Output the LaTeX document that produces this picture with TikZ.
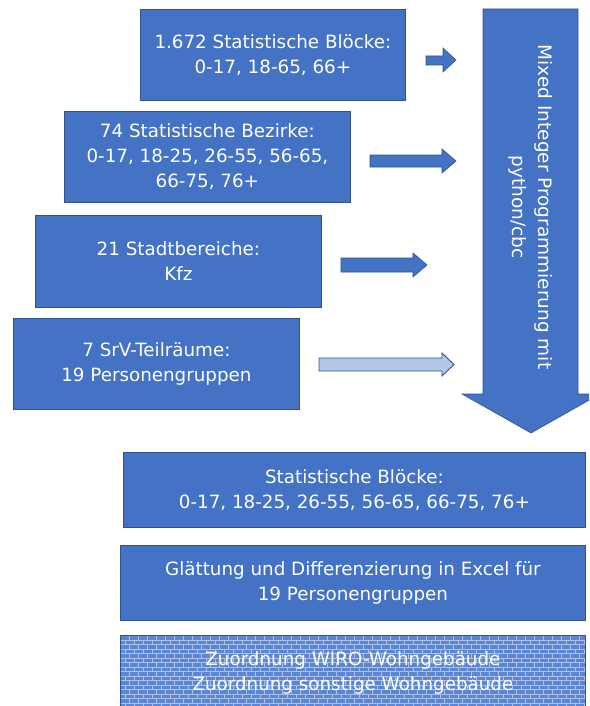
\documentclass[tikz,border=0pt]{standalone}
\usepackage{fontspec}
\setmainfont{DejaVu Sans}
\definecolor{boxblue}{HTML}{4472C4}
\definecolor{boxedge}{HTML}{2F528F}
\definecolor{lightarrow}{HTML}{B4C7E7}
\definecolor{brickfill}{HTML}{5C86D0}
\definecolor{brickline}{HTML}{A9C1EC}
\tikzset{
  box/.style={draw=boxedge, line width=0.8pt, fill=boxblue, text=white, align=center,
    anchor=north west, inner sep=0pt, font=\fontsize{18.3}{25}\selectfont},
  blockarrow/.style={draw=boxedge, line width=0.6pt, fill=boxblue},
  lightblockarrow/.style={draw=boxedge, line width=0.9pt, fill=lightarrow},
  bigtext/.style={text=white, align=center, rotate=-90, font=\fontsize{18.5}{26}\selectfont},
  bricks/.style={draw=brickline, line width=0.6pt}
}
\begin{document}
\begin{tikzpicture}[x=1pt,y=-1pt]
\useasboundingbox (0,0) rectangle (589,706);
\clip (0,0) rectangle (589,706);

% big down arrow
\draw[blockarrow] (483,9) -- (578,9) -- (578,394) -- (600,394) -- (531,433) -- (462,394) -- (483,394) -- cycle;
\node[bigtext] (mip) at (531,207) {Mixed Integer Programmierung mit\\python/cbc};

% source boxes
\node[box, minimum width=265pt, minimum height=91pt] (b1) at (140,9)
  {1.672 Statistische Blöcke:\\0-17, 18-65, 66+};
\node[box, minimum width=286pt, minimum height=91pt] (b2) at (64,111)
  {74 Statistische Bezirke:\\0-17, 18-25, 26-55, 56-65,\\66-75, 76+};
\node[box, minimum width=286pt, minimum height=92pt] (b3) at (35,215)
  {21 Stadtbereiche:\\Kfz};
\node[box, minimum width=286pt, minimum height=91pt] (b4) at (13,318)
  {7 SrV-Teilräume:\\19 Personengruppen};

% block arrows
\draw[blockarrow] (426,56) -- (443,56) -- (443,48) -- (456,60) -- (443,72) -- (443,65) -- (426,65) -- cycle;
\draw[blockarrow] (370,155) -- (442,155) -- (442,149) -- (456,161) -- (442,173) -- (442,167) -- (370,167) -- cycle;
\draw[blockarrow] (341,258) -- (413,258) -- (413,253) -- (427,265) -- (413,277) -- (413,272) -- (341,272) -- cycle;
\draw[lightblockarrow] (319,358) -- (442,358) -- (442,353) -- (454,364.5) -- (442,376) -- (442,371) -- (319,371) -- cycle;

% result boxes
\node[box, minimum width=462pt, minimum height=75pt] (b5) at (123,452)
  {Statistische Blöcke:\\0-17, 18-25, 26-55, 56-65, 66-75, 76+};
\node[box, minimum width=465pt, minimum height=75pt] (b6) at (120,545)
  {Glättung und Differenzierung in Excel für\\19 Personengruppen};
\node[box, fill=brickfill, minimum width=465pt, minimum height=75pt,
  path picture={
    \foreach \r in {0,...,17} {
      \pgfmathsetmacro{\yy}{\r*4.5}
      \pgfmathsetmacro{\off}{mod(\r,2)*4.5}
      \draw[bricks] ([yshift={-\yy pt}]path picture bounding box.north west) -- ++(465,0);
      \foreach \c in {0,...,52} {
        \pgfmathsetmacro{\xx}{\c*9+\off}
        \draw[bricks] ([xshift={\xx pt}, yshift={-\yy pt}]path picture bounding box.north west) -- ++(0,4.5);
      }
    }
  }] (b7) at (120,635)
  {Zuordnung WIRO-Wohngebäude\\Zuordnung sonstige Wohngebäude};
\end{tikzpicture}
\end{document}
